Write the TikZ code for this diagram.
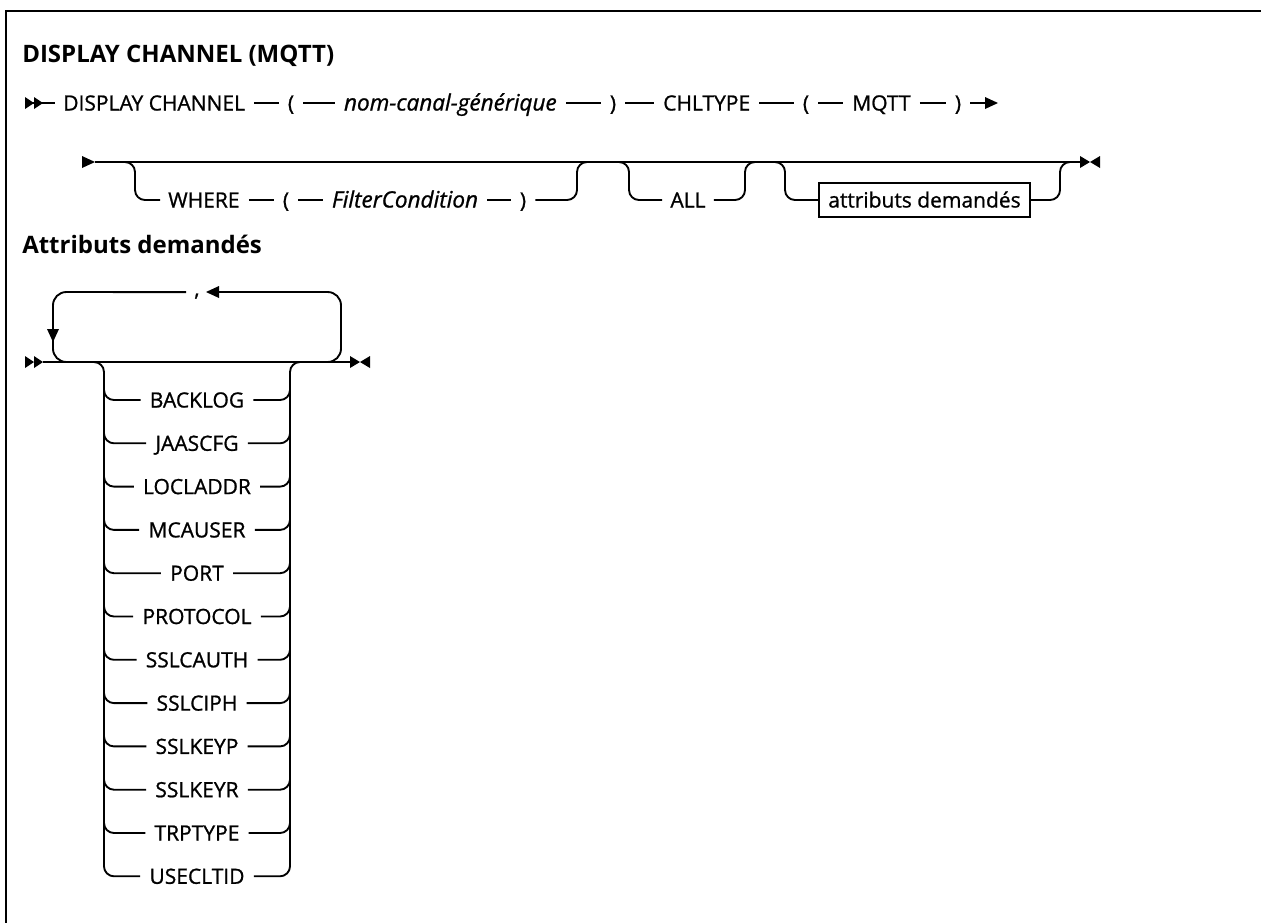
\documentclass[tikz,border=0pt]{standalone}
\usepackage{fontspec}
\setmainfont{Open Sans}
\newfontfamily\bodyf{Open Sans}[FakeBold=1.0]
\usetikzlibrary{calc}
\newcommand\dsh[2]{\draw[ln] ($(#1.east)+(9,0)$) -- ($(#2.west)+(-9,0)$);}
\begin{document}
\begin{tikzpicture}[x=0.75pt,y=-0.75pt,
  ln/.style={line width=1.4pt},
  t/.style={inner sep=0pt, text height=11.25pt, text depth=0pt, font=\bodyf\fontsize{15.75pt}{18pt}\selectfont},
  ti/.style={t, font=\bodyf\fontsize{16.9pt}{19pt}\selectfont\itshape},
  hd/.style={inner sep=0pt, anchor=base west, font=\fontsize{18pt}{22pt}\selectfont\bfseries},
  rc/.style={rounded corners=7.5pt},
  rcl/.style={rounded corners=10pt},
]
\useasboundingbox (0,0) rectangle (1261,922);
% frame
\draw[line width=2.2pt] (1262,11) -- (6,11) -- (6,923);
% title
\node[hd] (title) at (22,62) {DISPLAY CHANNEL (MQTT)};
% ---- row 1
\coordinate (a1) at (25,103);
\fill (25,97) -- (34,103) -- (25,109) -- cycle;
\fill (34,97) -- (43,103) -- (34,109) -- cycle;
\node[t, anchor=west] (dc) at (63,103) {DISPLAY CHANNEL};
\node[t] (lp1) at (291,103) {(};
\node[ti, anchor=east] (nom) at (557,103) {nom-canal-générique};
\node[t] (rp1) at (613,103) {)};
\node[t, anchor=west] (chl) at (663,103) {CHLTYPE};
\node[t] (lp2) at (806,103) {(};
\node[t, anchor=west] (mq) at (852,103) {MQTT};
\node[t] (rp2) at (958,103) {)};
\coordinate (a1e) at (986,103);
\draw[ln] (a1) -- ($(dc.west)+(-8,0)$);
\dsh{dc}{lp1}\dsh{lp1}{nom}\dsh{nom}{rp1}\dsh{rp1}{chl}\dsh{chl}{lp2}\dsh{lp2}{mq}\dsh{mq}{rp2}
\draw[ln] ($(rp2.east)+(9,0)$) -- (a1e);
\fill (998,103) -- (985,97) -- (985,109) -- cycle;
% ---- row 2
\fill (82,156) -- (95,162) -- (82,168) -- cycle;
\coordinate (b0) at (95,162);
\coordinate (b1) at (1080,162);
\draw[ln] (b0) -- (b1);
\fill (1080,156) -- (1090,162) -- (1080,168) -- cycle;
\fill (1100,156) -- (1090,162) -- (1100,168) -- cycle;
% WHERE
\node[t, anchor=west] (wh) at (168,200) {WHERE};
\node[t] (lp3) at (286,200) {(};
\node[ti] (fc) at (405,200) {FilterCondition};
\node[t] (rp3) at (523,200) {)};
\draw[ln,rc] (115,162) -- (135,162) -- (135,200) -- ($(wh.west)+(-8,0)$);
\dsh{wh}{lp3}\dsh{lp3}{fc}\dsh{fc}{rp3}
\draw[ln,rc] ($(rp3.east)+(9,0)$) -- (577,200) -- (577,162) -- (597,162);
% ALL
\node[t] (all) at (688,200) {ALL};
\draw[ln,rc] (609,162) -- (629,162) -- (629,200) -- ($(all.west)+(-8,0)$);
\draw[ln,rc] ($(all.east)+(8,0)$) -- (745,200) -- (745,162) -- (765,162);
% attributs box
\node[t, draw, line width=1.1pt, minimum width=158pt, minimum height=25.5pt] (att) at (924.5,200) {attributs demandés};
\draw[ln,rc] (765,162) -- (785,162) -- (785,200) -- (att.west);
\draw[ln,rc] (att.east) -- (1060,200) -- (1060,162) -- (1080,162);
% ---- heading 2
\node[hd] (h2) at (22,253) {Attributs demandés};
% ---- attributes diagram
\fill (25,356) -- (34,362) -- (25,368) -- cycle;
\fill (34,356) -- (43,362) -- (34,368) -- cycle;
\coordinate (c0) at (43,362);
\coordinate (c1) at (350,362);
\draw[ln] (c0) -- (c1);
\fill (350,356) -- (360,362) -- (350,368) -- cycle;
\fill (370,356) -- (360,362) -- (370,368) -- cycle;
% loop
\node[inner sep=0pt, anchor=base, font=\bodyf\fontsize{15.75pt}{18pt}\selectfont] (cm) at (197,296) {,};
\draw[ln,rcl] ($(cm.west)+(-8,-4)$) -- (53,292) -- (53,362) -- (80,362);
\fill (47,329) -- (59,329) -- (53,342) -- cycle;
\draw[ln,rcl] (310,362) -- (341,362) -- (341,292) -- (215,292);
\fill (206,292) -- (219,286) -- (219,298) -- cycle;
% choice
\draw[ln,rc] (90,362) -- (104,362) -- (104,385);
\draw[ln,rc] (290,385) -- (290,362) -- (304,362);
\draw[ln] (104,375) -- (104,866);
\draw[ln] (290,375) -- (290,866);
\foreach \nm [count=\i from 0] in {BACKLOG,JAASCFG,LOCLADDR,MCAUSER,PORT,PROTOCOL,SSLCAUTH,SSLCIPH,SSLKEYP,SSLKEYR,TRPTYPE,USECLTID}{
  \pgfmathsetmacro\yy{400+43.3*\i}
  \node[t] (it\i) at (197,\yy) {\nm};
  \draw[ln,rc] (104,\yy-20) -- (104,\yy) -- ($(it\i.west)+(-9,0)$);
  \draw[ln,rc] ($(it\i.east)+(9,0)$) -- (290,\yy) -- (290,\yy-20);
}
\end{tikzpicture}
\end{document}
